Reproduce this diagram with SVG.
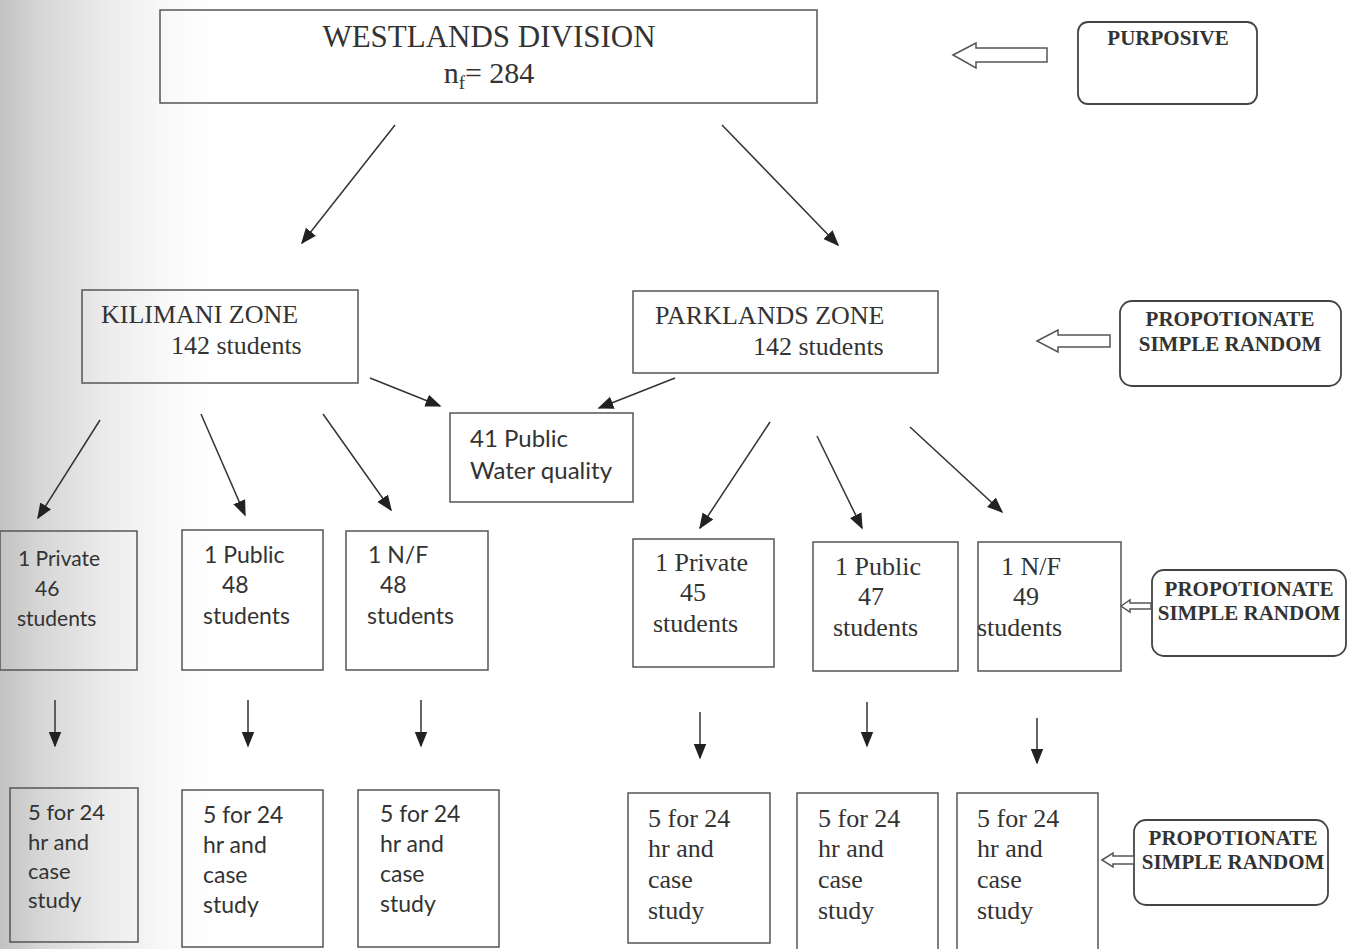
<svg xmlns="http://www.w3.org/2000/svg" width="1349" height="949" viewBox="0 0 1349 949">
<defs>
<linearGradient id="bg" x1="0" y1="0" x2="1" y2="0">
<stop offset="0" stop-color="#c2c2c2"/>
<stop offset="0.03" stop-color="#d6d6d6"/>
<stop offset="0.08" stop-color="#ececec"/>
<stop offset="0.13" stop-color="#fafafa"/>
<stop offset="0.16" stop-color="#ffffff"/>
</linearGradient>
<marker id="ahb" viewBox="0 0 10 10" refX="9" refY="5" markerWidth="16" markerHeight="16" markerUnits="userSpaceOnUse" orient="auto">
<path d="M0,1 L10,5 L0,9 z" fill="#222"/>
</marker>
</defs>
<style>
.box{fill:none;stroke:#555;stroke-width:1.5}
.rbox{fill:none;stroke:#444;stroke-width:1.8}
.t{font-family:"Liberation Serif",serif;fill:#333}
.o{font-family:Lato,"Open Sans",sans-serif;fill:#333}
.b{font-family:"Liberation Serif",serif;font-weight:bold;fill:#333;font-size:21px;text-anchor:middle}
.c{stroke:#333;stroke-width:1.5;fill:none;marker-end:url(#ahb)}
.hol{fill:#fff;stroke:#555;stroke-width:1.5}
</style>
<rect x="0" y="0" width="1349" height="949" fill="url(#bg)"/>

<g id="westlands">
<rect class="box" x="160" y="10" width="657" height="93"/>
<text class="t" x="489" y="47" font-size="31" text-anchor="middle">WESTLANDS DIVISION</text>
<text class="t" x="489" y="83" font-size="30" text-anchor="middle">n<tspan font-size="19" dy="6">f</tspan><tspan dy="-6">= 284</tspan></text>
</g>

<g id="purposive">
<rect class="rbox" x="1078" y="22" width="179" height="82" rx="10"/>
<text class="b" x="1168" y="45">PURPOSIVE</text>
</g>

<g id="kilimani">
<rect class="box" x="82" y="290" width="276" height="93"/>
<text class="t" x="101" y="323" font-size="26">KILIMANI ZONE</text>
<text class="t" x="171" y="354" font-size="26">142 students</text>
</g>

<g id="parklands">
<rect class="box" x="633" y="291" width="305" height="82"/>
<text class="t" x="655" y="324" font-size="26">PARKLANDS ZONE</text>
<text class="t" x="753" y="355" font-size="26">142 students</text>
</g>

<g id="prop1">
<rect class="rbox" x="1120" y="301" width="221" height="85" rx="12"/>
<text class="b" x="1230" y="326">PROPOTIONATE</text>
<text class="b" x="1230" y="351">SIMPLE RANDOM</text>
</g>

<g id="public41">
<rect class="box" x="450" y="413" width="183" height="89"/>
<text class="o" x="470" y="447" font-size="24">41 Public</text>
<text class="o" x="470" y="479" font-size="24">Water quality</text>
</g>

<g id="k_private">
<rect class="box" x="0" y="531" width="137" height="139"/>
<text class="o" x="18" y="566" font-size="21">1 Private</text>
<text class="o" x="35" y="596" font-size="21">46</text>
<text class="o" x="17" y="626" font-size="21">students</text>
</g>
<g id="k_public">
<rect class="box" x="182" y="530" width="141" height="140"/>
<text class="o" x="204" y="563" font-size="23">1 Public</text>
<text class="o" x="222" y="593" font-size="23">48</text>
<text class="o" x="203" y="624" font-size="23">students</text>
</g>
<g id="k_nf">
<rect class="box" x="346" y="531" width="142" height="139"/>
<text class="o" x="368" y="563" font-size="23">1 N/F</text>
<text class="o" x="380" y="593" font-size="23">48</text>
<text class="o" x="367" y="624" font-size="23">students</text>
</g>

<g id="p_private">
<rect class="box" x="633" y="539" width="141" height="128"/>
<text class="t" x="655" y="571" font-size="26">1 Private</text>
<text class="t" x="680" y="601" font-size="26">45</text>
<text class="t" x="653" y="632" font-size="26">students</text>
</g>
<g id="p_public">
<rect class="box" x="813" y="542" width="145" height="129"/>
<text class="t" x="835" y="575" font-size="26">1 Public</text>
<text class="t" x="858" y="605" font-size="26">47</text>
<text class="t" x="833" y="636" font-size="26">students</text>
</g>
<g id="p_nf">
<rect class="box" x="978" y="542" width="143" height="129"/>
<text class="t" x="1001" y="575" font-size="26">1 N/F</text>
<text class="t" x="1013" y="605" font-size="26">49</text>
<text class="t" x="977" y="636" font-size="26">students</text>
</g>

<g id="prop2">
<rect class="rbox" x="1152" y="570" width="194" height="86" rx="12"/>
<text class="b" x="1249" y="596">PROPOTIONATE</text>
<text class="b" x="1249" y="620">SIMPLE RANDOM</text>
</g>

<g id="k_private_case">
<rect class="box" x="10" y="788" width="128" height="154"/>
<text class="o" x="28" y="820" font-size="22">5 for 24</text>
<text class="o" x="28" y="850" font-size="22">hr and</text>
<text class="o" x="28" y="879" font-size="22">case</text>
<text class="o" x="28" y="908" font-size="22">study</text>
</g>
<g id="k_public_case">
<rect class="box" x="182" y="790" width="141" height="157"/>
<text class="o" x="203" y="823" font-size="23">5 for 24</text>
<text class="o" x="203" y="853" font-size="23">hr and</text>
<text class="o" x="203" y="883" font-size="23">case</text>
<text class="o" x="203" y="913" font-size="23">study</text>
</g>
<g id="k_nf_case">
<rect class="box" x="358" y="790" width="141" height="157"/>
<text class="o" x="380" y="822" font-size="23">5 for 24</text>
<text class="o" x="380" y="852" font-size="23">hr and</text>
<text class="o" x="380" y="882" font-size="23">case</text>
<text class="o" x="380" y="912" font-size="23">study</text>
</g>
<g id="p_private_case">
<rect class="box" x="628" y="793" width="142" height="150"/>
<text class="t" x="648" y="827" font-size="26">5 for 24</text>
<text class="t" x="648" y="857" font-size="26">hr and</text>
<text class="t" x="648" y="888" font-size="26">case</text>
<text class="t" x="648" y="919" font-size="26">study</text>
</g>
<g id="p_public_case">
<rect class="box" x="797" y="793" width="141" height="160"/>
<text class="t" x="818" y="827" font-size="26">5 for 24</text>
<text class="t" x="818" y="857" font-size="26">hr and</text>
<text class="t" x="818" y="888" font-size="26">case</text>
<text class="t" x="818" y="919" font-size="26">study</text>
</g>
<g id="p_nf_case">
<rect class="box" x="957" y="793" width="141" height="160"/>
<text class="t" x="977" y="827" font-size="26">5 for 24</text>
<text class="t" x="977" y="857" font-size="26">hr and</text>
<text class="t" x="977" y="888" font-size="26">case</text>
<text class="t" x="977" y="919" font-size="26">study</text>
</g>

<g id="prop3">
<rect class="rbox" x="1134" y="820" width="194" height="85" rx="12"/>
<text class="b" x="1233" y="845" font-size="20">PROPOTIONATE</text>
<text class="b" x="1233" y="869" font-size="20">SIMPLE RANDOM</text>
</g>

<g id="connectors">
<line class="c" x1="395" y1="125" x2="302" y2="243"/>
<line class="c" x1="722" y1="125" x2="838" y2="245"/>
<line class="c" x1="370" y1="378" x2="440" y2="406"/>
<line class="c" x1="100" y1="420" x2="38" y2="518"/>
<line class="c" x1="201" y1="414" x2="245" y2="515"/>
<line class="c" x1="323" y1="414" x2="391" y2="510"/>
<line class="c" x1="675" y1="378" x2="599" y2="408"/>
<line class="c" x1="770" y1="422" x2="700" y2="528"/>
<line class="c" x1="817" y1="436" x2="862" y2="528"/>
<line class="c" x1="910" y1="427" x2="1002" y2="512"/>
<line class="c" x1="55" y1="700" x2="55" y2="746"/>
<line class="c" x1="248" y1="700" x2="248" y2="746"/>
<line class="c" x1="421" y1="700" x2="421" y2="746"/>
<line class="c" x1="700" y1="712" x2="700" y2="758"/>
<line class="c" x1="867" y1="702" x2="867" y2="746"/>
<line class="c" x1="1037" y1="718" x2="1037" y2="763"/>
<path class="hol" d="M953,55 L976,43 L976,48 L1047,48 L1047,62 L976,62 L976,68 Z"/>
<path class="hol" d="M1037,341 L1058,330 L1058,335 L1110,335 L1110,347 L1058,347 L1058,352 Z"/>
<path class="hol" d="M1121,606 L1130,600 L1130,603 L1151,603 L1151,609 L1130,609 L1130,612 Z"/>
<path class="hol" d="M1102,860 L1113,853 L1113,856 L1134,856 L1134,864 L1113,864 L1113,867 Z"/>
</g>
</svg>
